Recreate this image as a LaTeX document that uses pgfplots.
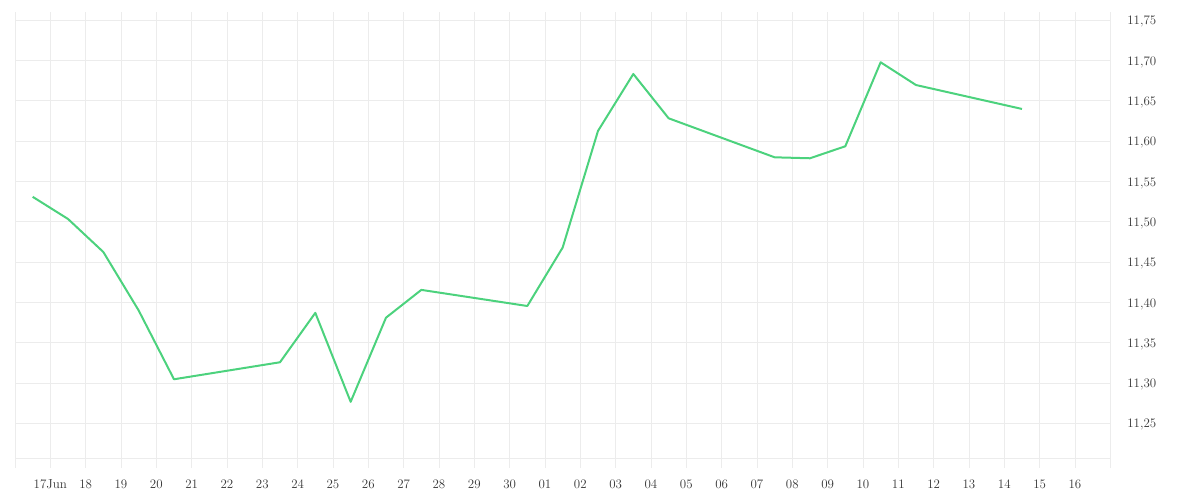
\documentclass[border=0pt]{standalone}
\usepackage{fontspec}
\usepackage{pgfplots}
\pgfplotsset{compat=1.18}
\definecolor{gridc}{RGB}{236,236,236}
\definecolor{linec}{RGB}{76,210,125}
\definecolor{txt}{RGB}{55,55,55}
\begin{document}
\begin{tikzpicture}[x=1bp,y=1bp]
\useasboundingbox (-15bp,-32bp) rectangle (1185bp,468bp);
\begin{axis}[
  anchor=south west, at={(0,0)},
  scale only axis,
  width=1095.3bp, height=456bp,
  xmin=0, xmax=31,
  ymin=11.1945, ymax=11.7603,
  axis line style={draw=none},
  axis y line*=right,
  /pgf/number format/assume math mode=true,
  xtick={1,...,30},
  xticklabels={17Jun,18,19,20,21,22,23,24,25,26,27,28,29,30,01,02,03,04,05,06,07,08,09,10,11,12,13,14,15,16},
  extra x ticks={0,31},
  extra x tick labels={},
  extra x tick style={grid=major, major grid style={gridc, line width=0.8bp}},
  ytick={11.25,11.30,...,11.76},
  extra y ticks={11.2066},
  extra y tick labels={},
  extra y tick style={grid=major, major grid style={gridc, line width=0.8bp}},
  yticklabel style={/pgf/number format/fixed, /pgf/number format/fixed zerofill, /pgf/number format/precision=2, /pgf/number format/use comma, xshift=13.5bp, yshift=-1.5bp},
  grid=major,
  major grid style={gridc, line width=0.8bp},
  major tick length=0pt,
  tick style={draw=none},
  every tick label/.append style={font=\fontsize{13}{15}\selectfont, text=txt},
  xticklabel style={anchor=base, yshift=-20bp},
  clip=false,
]
\addplot[color=linec, line width=2bp, line join=round, mark=none] coordinates {
(0.5,11.531) (1.5,11.5035) (2.5,11.4625) (3.5,11.390) (4.5,11.3046)
(7.5,11.3257) (8.5,11.387) (9.5,11.2766) (10.5,11.381) (11.5,11.4155)
(14.5,11.3955) (15.5,11.468) (16.5,11.6127) (17.5,11.6834) (18.5,11.6284)
(21.5,11.580) (22.5,11.5788) (23.5,11.5937) (24.5,11.6979) (25.5,11.6697)
(28.5,11.640)
};
\end{axis}
\end{tikzpicture}
\end{document}
